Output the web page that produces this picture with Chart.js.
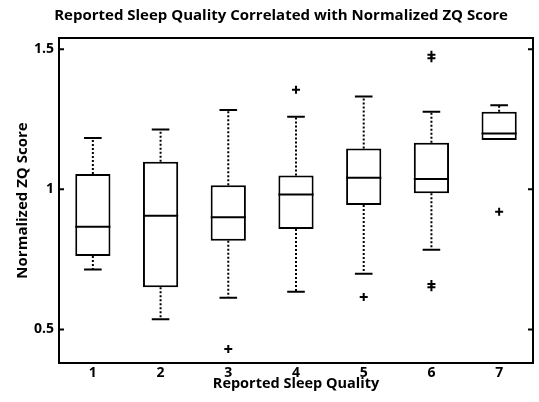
<!DOCTYPE html>
<html>
<head>
<meta charset="utf-8">
<script src="https://cdn.jsdelivr.net/npm/chart.js@4"></script>
<style>
  html, body { margin: 0; padding: 0; background: #fff; }
  #wrap { width: 539px; height: 402px; }
</style>
</head>
<body>
<div id="wrap"><canvas id="grafico" width="539" height="402"></canvas></div>
<script>
// datos
const categorias = ['1', '2', '3', '4', '5', '6', '7'];
const bigoteBajo = [0.714, 0.536, 0.613, 0.634, 0.699, 0.784, 1.176];
const q1 = [0.762, 0.650, 0.816, 0.858, 0.944, 0.986, 1.176];
const mediana = [0.866, 0.906, 0.900, 0.981, 1.041, 1.037, 1.199];
const q3 = [1.055, 1.098, 1.014, 1.049, 1.146, 1.166, 1.277];
const bigoteAlto = [1.183, 1.213, 1.283, 1.259, 1.331, 1.277, 1.300];
const atipicos = [[], [], [0.430], [1.355], [0.616], [1.480, 1.468, 0.662, 0.650], [0.920]];
const ticksY = [0.5, 1, 1.5];
const titulo = 'Reported Sleep Quality Correlated with Normalized ZQ Score';

const fuente = '"Open Sans", Lato, sans-serif';

const puntosAtipicos = [];
atipicos.forEach((lista, i) => {
  lista.forEach(v => puntosAtipicos.push({ x: categorias[i], y: v }));
});

// bigotes, medianas, marco y titulo
const dibujoCajas = {
  id: 'dibujoCajas',
  afterDatasetsDraw(chart) {
    const ctx = chart.ctx;
    const x = chart.scales.x;
    const y = chart.scales.y;
    const area = chart.chartArea;
    const meta = chart.getDatasetMeta(0);
    ctx.save();
    ctx.strokeStyle = '#000';
    categorias.forEach((c, i) => {
      const cx = x.getPixelForValue(i);
      const ancho = meta.data[i].width;
      const cap = ancho / 2;
      // mediana
      ctx.setLineDash([]);
      ctx.lineWidth = 2;
      ctx.beginPath();
      ctx.moveTo(cx - ancho / 2, y.getPixelForValue(mediana[i]));
      ctx.lineTo(cx + ancho / 2, y.getPixelForValue(mediana[i]));
      ctx.stroke();
      // bigotes punteados
      ctx.lineWidth = 2;
      ctx.setLineDash([2, 2]);
      ctx.beginPath();
      if (bigoteAlto[i] > q3[i]) {
        ctx.moveTo(cx, y.getPixelForValue(q3[i]));
        ctx.lineTo(cx, y.getPixelForValue(bigoteAlto[i]));
      }
      if (bigoteBajo[i] < q1[i]) {
        ctx.moveTo(cx, y.getPixelForValue(q1[i]));
        ctx.lineTo(cx, y.getPixelForValue(bigoteBajo[i]));
      }
      ctx.stroke();
      // topes
      ctx.setLineDash([]);
      ctx.beginPath();
      ctx.moveTo(cx - cap / 2, y.getPixelForValue(bigoteAlto[i]));
      ctx.lineTo(cx + cap / 2, y.getPixelForValue(bigoteAlto[i]));
      if (bigoteBajo[i] < q1[i]) {
        ctx.moveTo(cx - cap / 2, y.getPixelForValue(bigoteBajo[i]));
        ctx.lineTo(cx + cap / 2, y.getPixelForValue(bigoteBajo[i]));
      }
      ctx.stroke();
    });
    // marco
    ctx.lineWidth = 2;
    ctx.strokeRect(area.left, area.top, area.right - area.left, area.bottom - area.top);
    // marcas hacia adentro
    ticksY.forEach(v => {
      const py = y.getPixelForValue(v);
      ctx.beginPath();
      ctx.moveTo(area.left, py);
      ctx.lineTo(area.left + 5, py);
      ctx.moveTo(area.right, py);
      ctx.lineTo(area.right - 5, py);
      ctx.stroke();
    });
    // titulo
    ctx.fillStyle = '#000';
    ctx.font = 'bold 15px ' + fuente;
    ctx.textAlign = 'center';
    ctx.textBaseline = 'middle';
    ctx.fillText(titulo, 281, 16);
    ctx.restore();
  }
};

new Chart(document.getElementById('grafico'), {
  type: 'bar',
  data: {
    labels: categorias,
    datasets: [
      {
        label: 'Caja',
        data: categorias.map((c, i) => [q1[i], q3[i]]),
        backgroundColor: '#fff',
        borderColor: '#000',
        borderWidth: 2,
        borderSkipped: false,
        barPercentage: 0.52,
        categoryPercentage: 1
      },
      {
        type: 'scatter',
        label: 'Atipicos',
        data: puntosAtipicos,
        pointStyle: 'cross',
        radius: 4,
        borderColor: '#000',
        borderWidth: 2
      }
    ]
  },
  options: {
    responsive: false,
    animation: false,
    layout: { padding: { top: 38, left: 14, right: 5, bottom: 9 } },
    plugins: {
      legend: { display: false },
      tooltip: { enabled: false }
    },
    scales: {
      x: {
        type: 'category',
        offset: true,
        grid: { display: false, drawTicks: false },
        border: { display: false },
        ticks: { color: '#000', font: { family: fuente, size: 14, weight: 'bold' }, padding: 2 },
        title: { display: true, text: 'Reported Sleep Quality', color: '#000', font: { family: fuente, size: 14.5, weight: 'bold' }, padding: 0 },
        afterFit: s => { s.height = 30; }
      },
      y: {
        min: 0.38,
        max: 1.54,
        grid: { display: false, drawTicks: false },
        border: { display: false },
        afterBuildTicks: s => { s.ticks = ticksY.map(v => ({ value: v })); },
        ticks: { color: '#000', font: { family: fuente, size: 14, weight: 'bold' }, padding: 5, callback: v => String(v) },
        title: { display: true, text: 'Normalized ZQ Score', color: '#000', font: { family: fuente, size: 15, weight: 'bold' }, padding: 0 },
        afterFit: s => { s.width = 45; }
      }
    }
  },
  plugins: [dibujoCajas]
});
</script>
</body>
</html>
